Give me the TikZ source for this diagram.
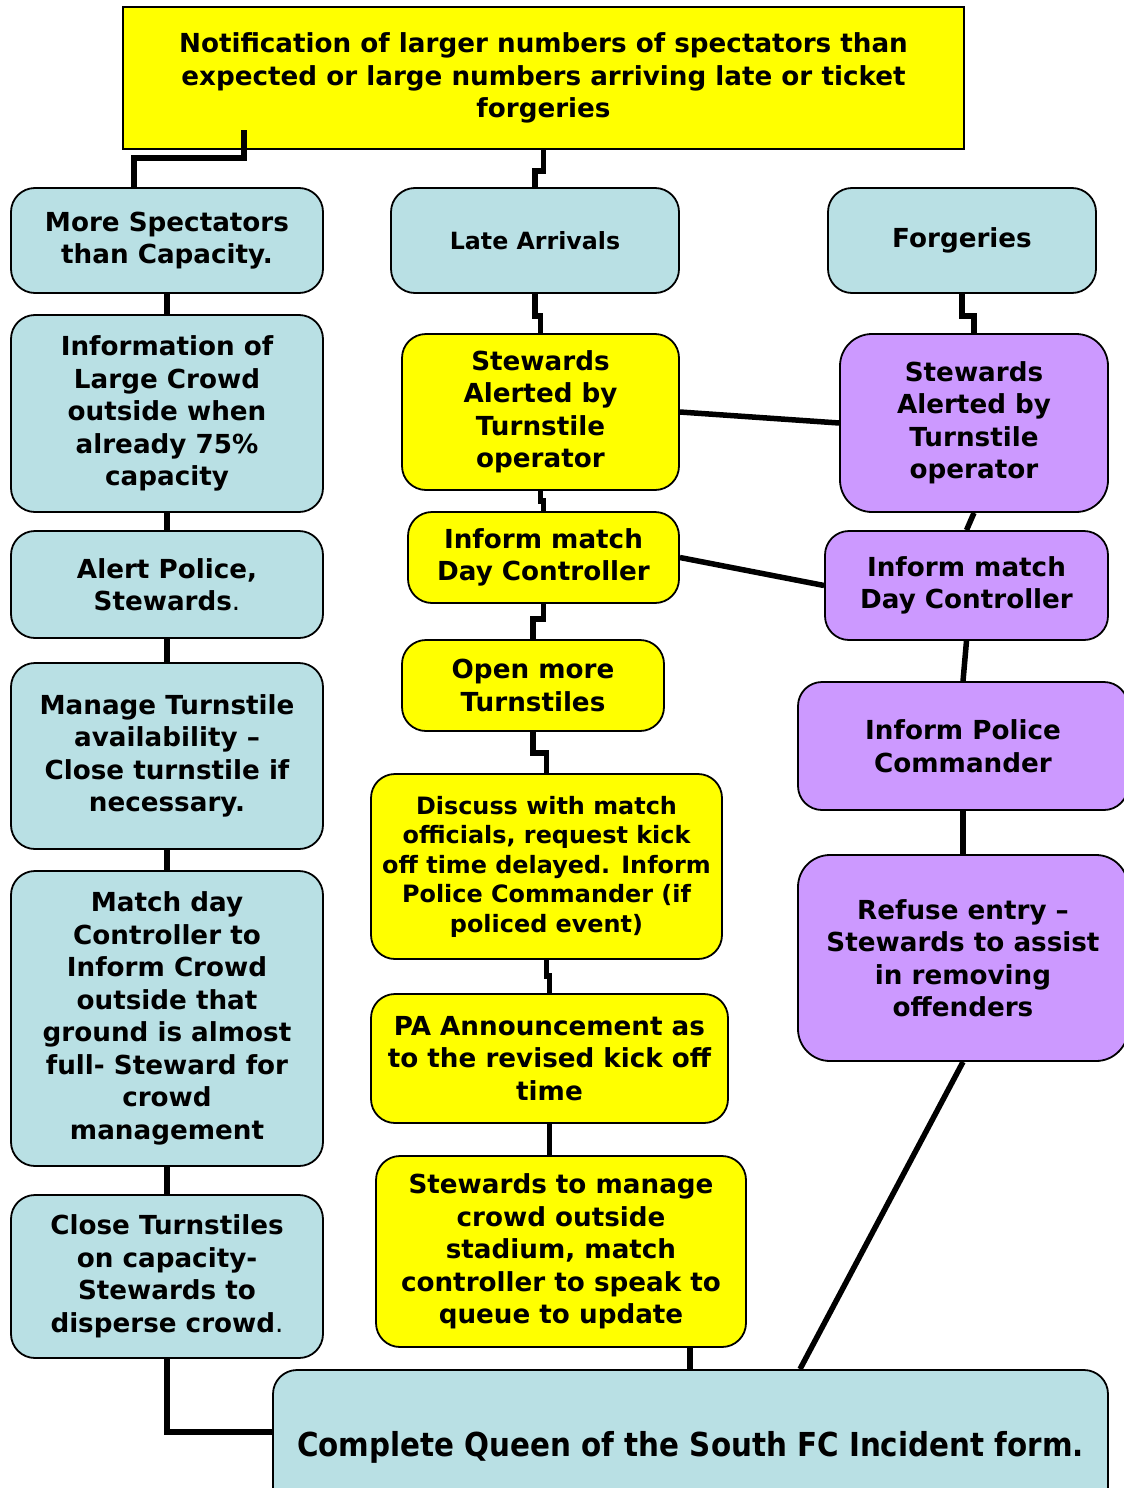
\documentclass[tikz,border=0pt]{standalone}
\usepackage{fontspec}
\setmainfont{DejaVu Sans}
\newfontfamily\condfont[FakeStretch=0.89]{DejaVu Sans}
\definecolor{lblue}{RGB}{185,224,228}
\definecolor{lpurple}{RGB}{204,153,255}
\definecolor{yel}{RGB}{255,255,0}
\begin{document}
\begin{tikzpicture}[x=1pt,y=-1pt,
  box/.style={draw=black, line width=1.8pt, rounded corners=24pt, align=center, inner sep=0pt,
    font=\bfseries\fontsize{26.2}{32.5}\selectfont},
  bluebox/.style={box, fill=lblue},
  yelbox/.style={box, fill=yel},
  purbox/.style={box, fill=lpurple},
  conn/.style={line width=5.5pt, black}]
\useasboundingbox (0,0) rectangle (1124,1488);
% top
\node[box, fill=yel, rounded corners=0pt, minimum width=841pt, minimum height=142pt] (top) at (543.5,78)
  {\raisebox{-3pt}{\parbox{800pt}{\centering Notification of larger numbers of spectators than\\expected or large numbers arriving late or ticket\\forgeries}}};
% left column
\node[bluebox, minimum width=312pt, minimum height=105pt] (ms) at (167,240.5) {More Spectators\\than Capacity.};
\node[bluebox, minimum width=312pt, minimum height=197pt] (info) at (167,413.5) {Information of\\Large Crowd\\outside when\\already 75\%\\capacity};
\node[bluebox, minimum width=312pt, minimum height=107pt] (alert) at (167,584.5) {Alert Police,\\Stewards{\mdseries.}};
\node[bluebox, minimum width=312pt, minimum height=186pt] (manage) at (167,756) {Manage Turnstile\\availability –\\Close turnstile if\\necessary.};
\node[bluebox, minimum width=312pt, minimum height=295pt] (match) at (167,1018.5) {Match day\\Controller to\\Inform Crowd\\outside that\\ground is almost\\full- Steward for\\crowd\\management};
\node[bluebox, minimum width=312pt, minimum height=163pt] (close) at (167,1276.5) {Close Turnstiles\\on capacity-\\Stewards to\\disperse crowd{\mdseries.}};
% middle column
\node[bluebox, minimum width=288pt, minimum height=105pt, font=\bfseries\fontsize{23.7}{29}\selectfont] (late) at (535,240.5) {Late Arrivals};
\node[yelbox, minimum width=277pt, minimum height=156pt] (ys) at (540.5,412) {Stewards\\Alerted by\\Turnstile\\operator};
\node[yelbox, minimum width=271pt, minimum height=91pt] (yi) at (543.5,557.5) {Inform match\\Day Controller};
\node[yelbox, minimum width=262pt, minimum height=91pt] (yo) at (533,685.5) {Open more\\Turnstiles};
\node[yelbox, minimum width=351pt, minimum height=185pt, font=\bfseries\fontsize{23.9}{29.5}\selectfont] (disc) at (546.5,866.5)
  {Discuss with match\\officials, request kick\\off time delayed. Inform\\Police Commander (if\\policed event)};
\node[yelbox, minimum width=357pt, minimum height=129pt] (pa) at (549.5,1058.5) {PA Announcement as\\to the revised kick off\\time};
\node[yelbox, minimum width=370pt, minimum height=191pt] (sm) at (561,1251.5) {Stewards to manage\\crowd outside\\stadium, match\\controller to speak to\\queue to update};
% right column
\node[bluebox, minimum width=268pt, minimum height=105pt] (forg) at (962,240.5) {Forgeries};
\node[purbox, minimum width=268pt, minimum height=178pt, rounded corners=32pt] (ps) at (974,423) {Stewards\\Alerted by\\Turnstile\\operator};
\node[purbox, minimum width=283pt, minimum height=109pt] (pi) at (966.5,585.5) {Inform match\\Day Controller};
\node[purbox, minimum width=330pt, minimum height=128pt] (pc) at (963,746) {Inform Police\\Commander};
\node[purbox, minimum width=330pt, minimum height=206pt, rounded corners=32pt] (re) at (963,958) {Refuse entry –\\Stewards to assist\\in removing\\offenders};
% bottom
\node[bluebox, minimum width=835pt, minimum height=154pt, font=\condfont\bfseries\fontsize{33}{38}\selectfont] (comp) at (690.5,1447)
  {Complete Queen of the South FC Incident form.};
% helper coordinates
\coordinate (s1) at (244,130);
\coordinate (xa) at (134,0);
\coordinate (xk) at (690,0);
\coordinate (xr) at (800,0);
% connectors
\draw[conn] (s1) |- (xa |- 0,158) -- (ms.north -| xa);
\draw[conn] (top.south) -- ++(0,21) -| (late.north);
\draw[conn] (ms) -- (info);
\draw[conn] (info) -- (alert);
\draw[conn] (alert) -- (manage);
\draw[conn] (manage) -- (match);
\draw[conn] (match) -- (close);
\draw[conn] (close.south) |- ([yshift=15pt]comp.west);
\draw[conn] (late.south) -- ++(0,22) -| (ys.north);
\draw[conn] (ys.south) -- ++(0,10) -| (yi.north);
\draw[conn] (yi.south) -- ++(0,15) -| (yo.north);
\draw[conn] (yo.south) -- ++(0,21) -| (disc.north);
\draw[conn] (disc.south) -- ++(0,16) -| (pa.north);
\draw[conn] (pa.south) -- (pa.south |- sm.north);
\draw[conn] (sm.south -| xk) -- (comp.north -| xk);
\draw[conn] (forg.south) -- ++(0,22) -| (ps.north);
\draw[conn] (ys.east) -- (ps.west);
\draw[conn] (yi.east) -- (pi.west);
\draw[conn] (ps.south) -- (pi.north);
\draw[conn] (pi.south) -- (pc.north);
\draw[conn] (pc) -- (re);
\draw[conn] (re.south) -- (comp.north -| xr);
\end{tikzpicture}
\end{document}
